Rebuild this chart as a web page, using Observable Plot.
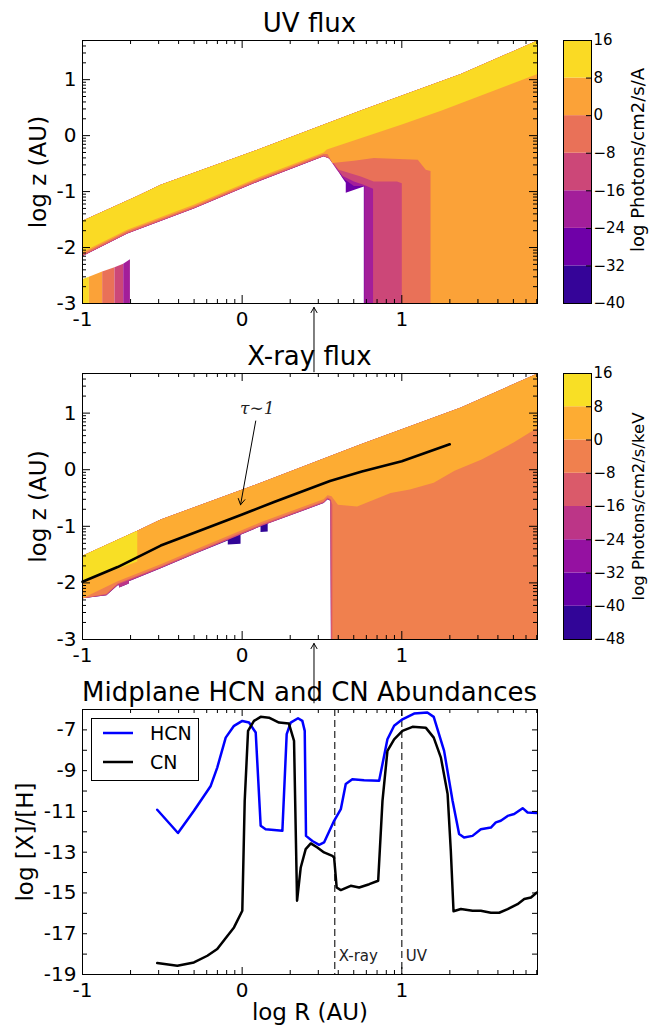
<!DOCTYPE html>
<html><head><meta charset="utf-8">
<script src="https://cdn.jsdelivr.net/npm/d3@7"></script>
<script src="https://cdn.jsdelivr.net/npm/@observablehq/plot@0.6"></script>
<style>
body{margin:0;background:#fff;font-family:"DejaVu Sans",sans-serif;}
#root{position:relative;width:650px;height:1027px;overflow:hidden;background:#fff;}
.title{position:absolute;left:82px;width:455px;text-align:center;font-size:26px;line-height:1;color:#000;white-space:nowrap;}
svg{overflow:visible;}
</style></head><body><div id="root"></div>
<script>
// ---------------- DATA ----------------
// disk surface (top of every coloured region), [log R, log z]
const surfaceTop = [[-1,-1.52],[-0.657,-1.08],[-0.51,-0.88],[0.116,-0.23],[0.743,0.45],[1.37,1.10],[1.85,1.70]];

// UV flux: lower boundary of region with flux >= level
const uvLevels = [-40,-32,-24,-16,-8,0,8,16];
const uvLower8   = [[-1,-2.08],[-0.72,-1.68],[-0.30,-1.23],[0.116,-0.73],[0.51,-0.30],[0.53,-0.25],[1.0,0.2],[1.25,0.45],[1.85,1.10]];
const uvLower0   = [[-1,-2.11],[-0.72,-1.71],[-0.30,-1.26],[0.116,-0.76],[0.51,-0.33],[0.535,-0.33],[0.565,-0.49],[0.70,-0.45],[0.825,-0.40],[1.10,-0.43],[1.15,-0.61],[1.18,-0.63],[1.18,-3],[1.85,-3]];
const uvLowerM8  = [[-1,-2.14],[-0.72,-1.74],[-0.30,-1.29],[0.116,-0.79],[0.51,-0.36],[0.545,-0.40],[0.58,-0.52],[0.605,-0.61],[0.743,-0.73],[0.824,-0.82],[0.97,-0.82],[1.0,-0.85],[1.0,-3],[1.85,-3]];
const uvLowerM16 = [[-1,-2.15],[-0.72,-1.75],[-0.30,-1.30],[0.116,-0.80],[0.51,-0.37],[0.545,-0.41],[0.59,-0.58],[0.63,-0.72],[0.70,-0.82],[0.76,-0.88],[0.82,-0.95],[0.82,-3],[1.85,-3]];
const uvLowerM24 = [[-1,-2.15],[-0.72,-1.75],[-0.30,-1.30],[0.116,-0.80],[0.51,-0.37],[0.545,-0.41],[0.595,-0.62],[0.64,-0.78],[0.70,-0.90],[0.765,-0.90],[0.765,-3],[1.85,-3]];
const uvLowerM32 = [[-1,-2.15],[-0.72,-1.75],[-0.30,-1.30],[0.116,-0.80],[0.51,-0.37],[0.542,-0.40],[0.586,-0.52],[0.605,-0.65],[0.624,-0.74],[0.649,-0.84],[0.649,-1.02],[0.762,-0.91],[0.762,-3],[1.85,-3]];
// UV: inner midplane block
const uvBlockX     = [-1,-0.96,-0.877,-0.80,-0.745,-0.703];
const uvBlockTop   = [-2.56,-2.52,-2.43,-2.35,-2.29,-2.21];
const uvBlockLevel = [8,0,-8,-16,-24];

// X-ray flux
const xrLevels = [-48,-40,-32,-24,-16,-8,0,8,16];
const xrLower8   = [[-1,-1.98],[-0.657,-1.62]];
const xrLower0   = [[-1,-2.27],[-0.78,-1.97],[-0.51,-1.67],[-0.30,-1.42],[0.116,-0.93],[0.51,-0.52],[0.535,-0.45],[0.56,-0.47],[0.60,-0.62],[0.72,-0.65],[0.93,-0.41],[1.05,-0.35],[1.20,-0.23],[1.33,-0.02],[1.50,0.18],[1.70,0.48],[1.85,0.74]];
const xrLowerM8  = [[-1,-2.27],[-0.85,-2.19],[-0.78,-2.01],[-0.51,-1.71],[-0.30,-1.46],[0.116,-0.97],[0.51,-0.56],[0.535,-0.49],[0.555,-0.52],[0.565,-0.62],[0.565,-3],[1.85,-3]];
const xrLowerM16 = [[-1,-2.27],[-0.85,-2.21],[-0.78,-2.03],[-0.51,-1.73],[-0.30,-1.48],[0.116,-0.99],[0.51,-0.58],[0.535,-0.51],[0.553,-0.54],[0.557,-3],[1.85,-3]];
const xrLowerM24 = [[-1,-2.27],[-0.85,-2.22],[-0.78,-2.04],[-0.77,-2.04],[-0.77,-2.08],[-0.71,-2.01],[-0.71,-1.97],[-0.51,-1.74],[-0.30,-1.49],[0.116,-1.0],[0.51,-0.59],[0.535,-0.52],[0.553,-0.55],[0.556,-3],[1.85,-3]];
const xrLowerM48 = [[-1,-2.27],[-0.85,-2.22],[-0.78,-2.04],[-0.77,-2.04],[-0.77,-2.08],[-0.71,-2.01],[-0.71,-1.97],[-0.51,-1.74],[-0.30,-1.49],[-0.09,-1.25],[-0.09,-1.32],[-0.01,-1.31],[-0.01,-1.15],[0.115,-1.0],[0.115,-1.10],[0.16,-1.09],[0.16,-0.95],[0.51,-0.59],[0.535,-0.52],[0.553,-0.55],[0.556,-3],[1.85,-3]];
// tau ~ 1 surface
const tauR = [-1,-0.78,-0.51,-0.25,0,0.2,0.4,0.55,0.75,1.0,1.3];
const tauZ = [-1.98,-1.72,-1.34,-1.06,-0.79,-0.57,-0.36,-0.20,-0.03,0.15,0.45];

// Midplane abundances
const hcnR = [-0.532,-0.402,-0.302,-0.197,-0.156,-0.103,-0.051,0.001,0.043,0.085,0.116,0.147,0.252,0.279,0.304,0.35,0.377,0.392,0.40,0.44,0.482,0.513,0.576,0.618,0.649,0.69,0.764,0.858,0.91,0.952,1.004,1.077,1.16,1.20,1.265,1.318,1.359,1.39,1.443,1.495,1.558,1.589,1.62,1.663,1.704,1.757,1.788,1.846];
const hcnV = [-10.92,-12.06,-10.97,-9.75,-8.85,-7.38,-6.80,-6.56,-6.64,-7.13,-11.7,-11.87,-11.95,-7.21,-6.64,-6.43,-6.56,-7.05,-12.2,-12.45,-12.64,-12.52,-11.46,-10.89,-9.66,-9.42,-9.47,-9.5,-7.46,-6.80,-6.48,-6.20,-6.15,-6.36,-8.03,-10.48,-12.11,-12.28,-12.2,-11.87,-11.79,-11.54,-11.46,-11.22,-11.13,-10.84,-11.05,-11.08];
const cnR = [-0.532,-0.406,-0.302,-0.218,-0.156,-0.10,-0.051,0.001,0.016,0.037,0.074,0.116,0.168,0.231,0.293,0.325,0.344,0.367,0.398,0.43,0.471,0.513,0.565,0.576,0.592,0.618,0.68,0.733,0.796,0.852,0.879,0.91,0.952,1.004,1.067,1.15,1.20,1.245,1.287,1.307,1.324,1.37,1.443,1.495,1.558,1.61,1.663,1.725,1.767,1.809,1.846];
const cnV = [-18.44,-18.57,-18.41,-18.08,-17.75,-17.18,-16.69,-15.87,-10.48,-7.05,-6.56,-6.36,-6.40,-6.64,-6.69,-7.54,-15.38,-13.75,-12.85,-12.57,-12.77,-13.01,-13.18,-13.26,-14.73,-14.86,-14.65,-14.73,-14.57,-14.4,-10.48,-8.03,-7.46,-7.05,-6.85,-6.89,-7.38,-8.36,-10.15,-12.93,-15.9,-15.79,-15.87,-15.87,-15.97,-15.97,-15.79,-15.55,-15.3,-15.22,-14.98];
const legendLabels = ["HCN","CN"];
const legendColors = ["#0000ff","#000000"];
const markerR = [0.58, 1.0];
const markerLabels = ["X-ray","UV"];
const markerLabelZ = -18.1;

// axes
const xDomain = [-1, 1.85];
const zDomain = [-3, 1.7];
const abDomain = [-19, -6];
const xMajor = [-1,0,1];
const zMajor = [-3,-2,-1,0,1];
const abLabels = [-19,-17,-15,-13,-11,-9,-7];
const abTicks = [-19,-18,-17,-16,-15,-14,-13,-12,-11,-10,-9,-8,-7];
const logMinor = [0.301,0.477,0.602,0.699,0.778,0.845,0.903,0.954];

// annotations
const midArrowR = 0.45;
const tauLabel = {x: 0.095, z: 1.08, text: "τ∼1"};
const tauArrow = {x1: 0.085, z1: 0.86, x2: -0.01, z2: -0.62};

// ---------------- BUILD ----------------
const root = document.getElementById("root");
const FONT = '"DejaVu Sans", sans-serif';
const W = 650, ML = 82, MR = 113, MT = 5, MB = 45, innerW = W - ML - MR;
const CBX = 563, CBW = 28;

function place(el, left, top){ el.style.position="absolute"; el.style.left=left+"px"; el.style.top=top+"px"; root.appendChild(el); }
function addTitle(text, top){ const d=document.createElement("div"); d.className="title"; d.textContent=text; d.style.top=top+"px"; root.appendChild(d); }

function regionRows(lower, level, id){
  const x0 = lower[0][0], x1 = lower[lower.length-1][0];
  const top = surfaceTop.filter(p => p[0] >= x0 && p[0] <= x1).slice().reverse();
  return lower.concat(top).map(([x,y]) => ({id, level, x, y}));
}
function blockRows(bx, btop, blev, prefix){
  const rows=[];
  for (let i=0;i<bx.length-1;i++){
    const pts=[[bx[i],-3],[bx[i+1],-3],[bx[i+1],btop[i+1]],[bx[i],btop[i]]];
    pts.forEach(([x,y])=>rows.push({id:prefix+i, level:blev[i], x, y}));
  }
  return rows;
}
const minorOf = (decades, max) => decades.flatMap(k => logMinor.map(m => k+m)).filter(v => v < max);

function frameTicks(innerH, xMin, yMaj, yMin, majLen, minLen, yMajLen, yMinLen){
  const m = [Plot.frame({stroke:"black", strokeWidth:1})];
  m.push(Plot.tickX(xMajor,{x:d=>d, insetTop: innerH-majLen, stroke:"black"}));
  m.push(Plot.tickX(xMajor,{x:d=>d, insetBottom: innerH-majLen, stroke:"black"}));
  m.push(Plot.tickX(xMin,{x:d=>d, insetTop: innerH-minLen, stroke:"black"}));
  m.push(Plot.tickX(xMin,{x:d=>d, insetBottom: innerH-minLen, stroke:"black"}));
  m.push(Plot.tickY(yMaj,{y:d=>d, insetRight: innerW-yMajLen, stroke:"black"}));
  m.push(Plot.tickY(yMaj,{y:d=>d, insetLeft: innerW-yMajLen, stroke:"black"}));
  if (yMin.length){
    m.push(Plot.tickY(yMin,{y:d=>d, insetRight: innerW-yMinLen, stroke:"black"}));
    m.push(Plot.tickY(yMin,{y:d=>d, insetLeft: innerW-yMinLen, stroke:"black"}));
  }
  return m;
}

const uvColors = d3.range(7).map(i => d3.interpolatePlasma((i+0.5)/7));
const xrColors = d3.range(8).map(i => d3.interpolatePlasma((i+0.5)/8));
const fmtMinus = d => d < 0 ? "\u2212" + Math.abs(d) : String(d);

function makeColorbar(top, innerH, levels, colors, label, labelSize, labelDy){
  const bins = levels.slice(0,-1).map((lo,i)=>({lo, hi: levels[i+1]}));
  const mr = 650 - CBX - CBW;
  const svg = Plot.plot({
    width: 650 - CBX, height: innerH+MT+MB, marginLeft: 0, marginRight: mr, marginTop: MT, marginBottom: MB,
    x: {domain:[0,1], axis:null}, y: {domain:[levels[0], levels[levels.length-1]], axis:null},
    color: {type:"threshold", domain: levels.slice(1,-1), range: colors},
    style: {fontFamily: FONT, background:"transparent", overflow:"visible", color:"black"},
    marks: [
      Plot.rect(bins, {x1:0, x2:1, y1:"lo", y2:"hi", fill:"lo"}),
      Plot.frame({stroke:"black"}),
      Plot.tickY(levels.slice(1,-1), {y:d=>d, insetLeft: CBW-5, stroke:"black"}),
      Plot.text(levels, {y:d=>d, frameAnchor:"right", textAnchor:"start", dx:2, text: fmtMinus, fontSize:15, fill:"black"}),
      Plot.text([label], {frameAnchor:"right", textAnchor:"middle", rotate:-90, dx:47, dy: labelDy, fontSize:labelSize, fill:"black"})
    ]
  });
  place(svg, CBX, top-MT);
}

function axisLabels(yLabels, ylabel, ylabelDx){
  return [
    Plot.axisX({ticks: xMajor, tickSize:0, tickPadding:8, tickFormat:d=>String(d), fontSize:20, label:null}),
    Plot.axisY({ticks: yLabels, tickSize:0, tickPadding:6, tickFormat:d=>String(d), fontSize:20, label:null}),
    Plot.text([ylabel], {frameAnchor:"left", textAnchor:"middle", rotate:-90, dx: ylabelDx, fontSize:23, fill:"black"})
  ];
}

// ---- Panel 1: UV flux
addTitle("UV flux", 10);
{
  const top=40, innerH=263;
  const rows = [].concat(
    regionRows(uvLowerM32, -32, "m32"), regionRows(uvLowerM24, -24, "m24"),
    regionRows(uvLowerM16, -16, "m16"), regionRows(uvLowerM8, -8, "m8"),
    regionRows(uvLower0, 0, "p0"), regionRows(uvLower8, 8, "p8"),
    blockRows(uvBlockX, uvBlockTop, uvBlockLevel, "blk"));
  const svg = Plot.plot({
    width: W, height: innerH+MT+MB, marginLeft: ML, marginRight: MR, marginTop: MT, marginBottom: MB,
    x:{domain:xDomain}, y:{domain:zDomain},
    color:{type:"threshold", domain: uvLevels.slice(1,-1), range: uvColors},
    style:{fontFamily:FONT, background:"transparent", overflow:"visible", color:"black"},
    marks:[
      Plot.line(rows, {x:"x", y:"y", z:"id", fill:"level", stroke:"none"}),
      ...frameTicks(innerH, minorOf([-1,0,1],1.85), zMajor, minorOf([-3,-2,-1,0,1],1.7), 8, 4, 8, 4),
      ...axisLabels(zMajor, "log z (AU)", -44),
      Plot.arrow([midArrowR], {x1:d=>d, x2:d=>d, y1:-4.22, y2:-3.07, stroke:"black", strokeWidth:1, headLength:9})
    ]
  });
  place(svg, 0, top-MT);
  makeColorbar(top, innerH, uvLevels, uvColors, "log Photons/cm2/s/A", 18, -12);
}

// ---- Panel 2: X-ray flux
addTitle("X-ray flux", 343);
{
  const top=373, innerH=266;
  const rows = [].concat(
    regionRows(xrLowerM48, -48, "m48"), regionRows(xrLowerM24, -24, "m24"),
    regionRows(xrLowerM16, -16, "m16"), regionRows(xrLowerM8, -8, "m8"),
    regionRows(xrLower0, 0, "p0"), regionRows(xrLower8, 8, "p8"));
  const tau = tauR.map((r,i)=>({r, z: tauZ[i]}));
  const svg = Plot.plot({
    width: W, height: innerH+MT+MB, marginLeft: ML, marginRight: MR, marginTop: MT, marginBottom: MB,
    x:{domain:xDomain}, y:{domain:zDomain},
    color:{type:"threshold", domain: xrLevels.slice(1,-1), range: xrColors},
    style:{fontFamily:FONT, background:"transparent", overflow:"visible", color:"black"},
    marks:[
      Plot.line(rows, {x:"x", y:"y", z:"id", fill:"level", stroke:"none"}),
      Plot.line(tau, {x:"r", y:"z", stroke:"black", strokeWidth:2.6}),
      Plot.arrow([tauArrow], {x1:"x1", y1:"z1", x2:"x2", y2:"z2", stroke:"black", strokeWidth:1, headLength:10}),
      Plot.text([tauLabel], {x:"x", y:"z", text:"text", fontFamily:'"DejaVu Serif", serif', fontStyle:"italic", fontSize:17, fill:"#222"}),
      ...frameTicks(innerH, minorOf([-1,0,1],1.85), zMajor, minorOf([-3,-2,-1,0,1],1.7), 8, 4, 8, 4),
      ...axisLabels(zMajor, "log z (AU)", -44),
      Plot.arrow([midArrowR], {x1:d=>d, x2:d=>d, y1:-4.12, y2:-3.07, stroke:"black", strokeWidth:1, headLength:9})
    ]
  });
  place(svg, 0, top-MT);
  makeColorbar(top, innerH, xrLevels, xrColors, "log Photons/cm2/s/keV", 16.5, 0);
}

// ---- Panel 3: abundances
addTitle("Midplane HCN and CN Abundances", 679);
{
  const top=709, innerH=265;
  const hcn = hcnR.map((r,i)=>({r, v:hcnV[i]}));
  const cn = cnR.map((r,i)=>({r, v:cnV[i]}));
  const markers = markerR.map((r,i)=>({r, label:markerLabels[i]}));
  const svg = Plot.plot({
    width: W, height: innerH+MT+MB, marginLeft: ML, marginRight: MR, marginTop: MT, marginBottom: MB,
    x:{domain:xDomain}, y:{domain:abDomain},
    style:{fontFamily:FONT, background:"transparent", overflow:"visible", color:"black"},
    marks:[
      Plot.ruleX(markers, {x:"r", stroke:"#333", strokeWidth:1.3, strokeDasharray:"7,4"}),
      Plot.text(markers, {x:"r", y:()=>markerLabelZ, text:"label", textAnchor:"start", dx:4, fontSize:15, fill:"#222"}),
      Plot.line(hcn, {x:"r", y:"v", stroke:legendColors[0], strokeWidth:2.5}),
      Plot.line(cn, {x:"r", y:"v", stroke:legendColors[1], strokeWidth:2.5}),
      ...frameTicks(innerH, minorOf([-1,0,1],1.85), abTicks, [], 7, 4, 5, 0),
      ...axisLabels(abLabels, "log [X]/[H]", -57),
      Plot.text(["log R (AU)"], {frameAnchor:"bottom", textAnchor:"middle", dy:45, fontSize:23, fill:"black"})
    ]
  });
  place(svg, 0, top-MT);

  // legend
  const leg = document.createElementNS("http://www.w3.org/2000/svg","svg");
  leg.setAttribute("width","108"); leg.setAttribute("height","63");
  let inner = `<rect x="0.5" y="0.5" width="107" height="62" fill="white" stroke="black" stroke-width="1"/>`;
  legendLabels.forEach((lab,i)=>{
    const y = 15 + i*29;
    inner += `<line x1="12" x2="42" y1="${y}" y2="${y}" stroke="${legendColors[i]}" stroke-width="2.5"/>`;
    inner += `<text x="59" y="${y}" dy="0.35em" font-family='"DejaVu Sans", sans-serif' font-size="19" fill="black">${lab}</text>`;
  });
  leg.innerHTML = inner;
  place(leg, 91, 718);
}
</script></body></html>
